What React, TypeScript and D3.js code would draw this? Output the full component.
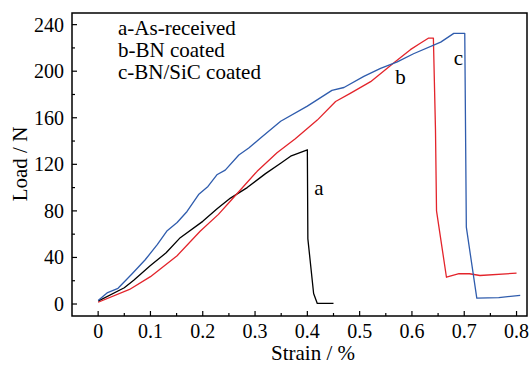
import React from "react";
import * as d3 from "d3";

const strainA = [0, 0.05, 0.068, 0.1, 0.13, 0.157, 0.2, 0.228, 0.253, 0.285, 0.32, 0.349, 0.368, 0.4, 0.401, 0.412, 0.419, 0.45];
const loadA = [2.5, 14, 20.5, 33, 44, 57, 71, 82, 91, 100, 112, 121, 127, 132.5, 56, 9, 0.5, 0.5];

const strainB = [0, 0.06, 0.1, 0.151, 0.195, 0.23, 0.256, 0.304, 0.342, 0.377, 0.419, 0.454, 0.482, 0.521, 0.565, 0.597, 0.616, 0.632, 0.641, 0.645, 0.647, 0.666, 0.69, 0.71, 0.73, 0.8];
const loadB = [1.5, 12.5, 23.5, 41.5, 62.5, 77, 90, 114, 130, 142, 158, 174, 181, 191, 207, 218.5, 224, 228.5, 228.5, 150, 80, 23, 26, 26, 24.5, 26.5];

const strainC = [0, 0.017, 0.038, 0.065, 0.09, 0.113, 0.132, 0.151, 0.17, 0.192, 0.21, 0.227, 0.243, 0.269, 0.288, 0.31, 0.349, 0.4, 0.447, 0.47, 0.508, 0.54, 0.572, 0.603, 0.655, 0.68, 0.701, 0.704, 0.724, 0.766, 0.807];
const loadC = [3, 9.5, 13.5, 26, 38, 51, 63, 70, 79.5, 94, 101, 111, 115, 128, 134, 142.5, 157, 170, 183.5, 186, 195.5, 202.5, 208, 215, 225, 232.5, 232.5, 66, 5, 5.5, 7.5];

const xTicks = [0, 0.1, 0.2, 0.3, 0.4, 0.5, 0.6, 0.7, 0.8];
const xMinor = [0.05, 0.15, 0.25, 0.35, 0.45, 0.55, 0.65, 0.75];
const yTicks = [0, 40, 80, 120, 160, 200, 240];
const yMinor = [20, 60, 100, 140, 180, 220];

const legendLines = ["a-As-received", "b-BN coated", "c-BN/SiC coated"];
const curveLabels = [
  { t: "a", x: 0.413, y: 94 },
  { t: "b", x: 0.568, y: 189 },
  { t: "c", x: 0.680, y: 205 },
];

const W = 530, H = 365;
const L = 72, R = 527, T = 13, B = 316;
const FS = { fontFamily: "Liberation Serif, Times New Roman, serif" };

export default function App() {
  const x = d3.scaleLinear().domain([-0.05, 0.82]).range([L, R]);
  const y = d3.scaleLinear().domain([-10.3, 250]).range([B, T]);
  const line = d3.line<[number, number]>().x(d => x(d[0])).y(d => y(d[1]));
  const series = [
    { s: strainA, l: loadA, c: "#000000" },
    { s: strainB, l: loadB, c: "#e3242b" },
    { s: strainC, l: loadC, c: "#2f5cad" },
  ];
  return (
    <svg width={W} height={H} style={{ position: "absolute", left: 0, top: 0, background: "#fff" }}>
      <rect x={0} y={0} width={W} height={H} fill="#fff" />
      {series.map((sr, i) => (
        <path key={i} d={line(sr.s.map((v, k) => [v, sr.l[k]] as [number, number])) || ""} fill="none" stroke={sr.c} strokeWidth={1.3} strokeLinejoin="round" />
      ))}
      <rect x={L} y={T} width={R - L} height={B - T} fill="none" stroke="#000" strokeWidth={1.5} />
      {xTicks.map(t => (
        <g key={"xt" + t}>
          <line x1={x(t)} x2={x(t)} y1={B} y2={B - 5} stroke="#000" strokeWidth={1.2} />
          <text x={x(t)} y={338} fontSize={20} textAnchor="middle" style={FS}>{t === 0 ? "0" : t.toFixed(1)}</text>
        </g>
      ))}
      {xMinor.map(t => (
        <line key={"xm" + t} x1={x(t)} x2={x(t)} y1={B} y2={B - 3} stroke="#000" strokeWidth={1.2} />
      ))}
      {yTicks.map(t => (
        <g key={"yt" + t}>
          <line x1={L} x2={L + 5} y1={y(t)} y2={y(t)} stroke="#000" strokeWidth={1.2} />
          <text x={64} y={y(t)} dy="0.35em" fontSize={20} textAnchor="end" style={FS}>{t}</text>
        </g>
      ))}
      {yMinor.map(t => (
        <line key={"ym" + t} x1={L} x2={L + 3} y1={y(t)} y2={y(t)} stroke="#000" strokeWidth={1.2} />
      ))}
      <text x={313} y={360} fontSize={21} textAnchor="middle" style={FS}>Strain / %</text>
      <text transform={`translate(27,${164}) rotate(-90)`} fontSize={21} textAnchor="middle" style={FS}>Load / N</text>
      {legendLines.map((t, i) => (
        <text key={t} x={118} y={35 + i * 22.2} fontSize={21} style={FS}>{t}</text>
      ))}
      {curveLabels.map(c => (
        <text key={c.t} x={x(c.x)} y={y(c.y)} fontSize={21} style={FS}>{c.t}</text>
      ))}
    </svg>
  );
}
